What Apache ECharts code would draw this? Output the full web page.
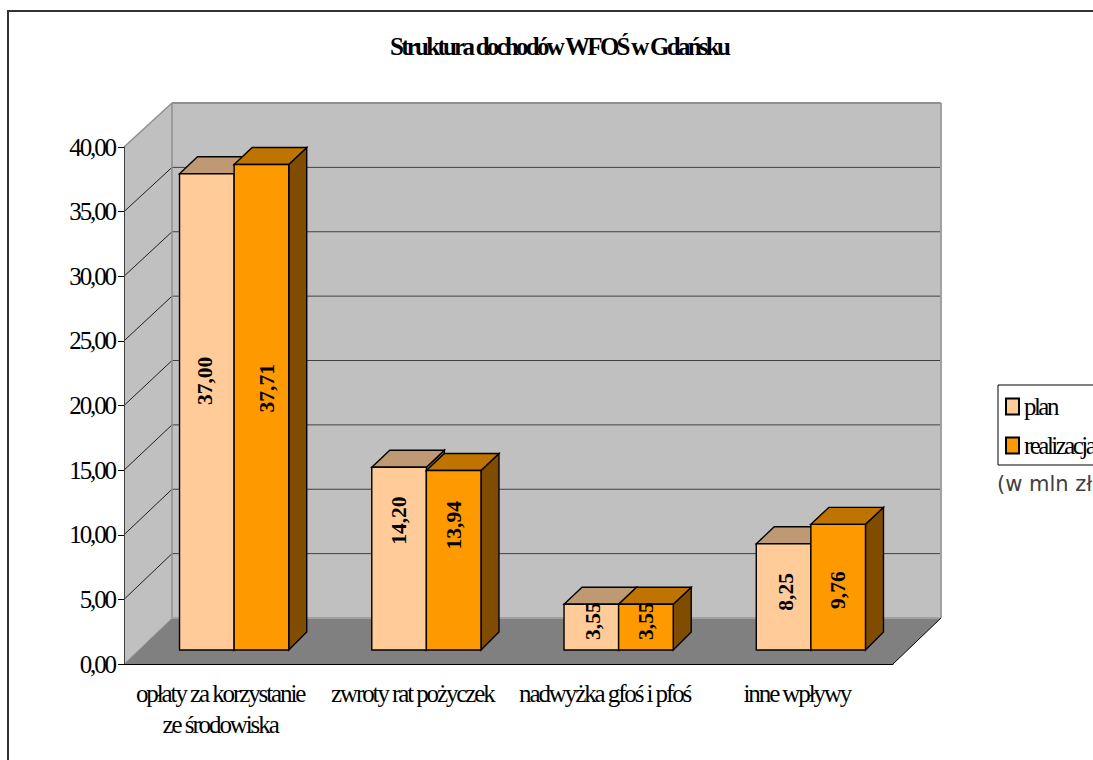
<!DOCTYPE html>
<html>
<head>
<meta charset="utf-8">
<title>Struktura dochodów WFOŚ w Gdańsku</title>
<script src="https://cdn.jsdelivr.net/npm/echarts@6/dist/echarts.min.js"></script>
<style>
  html, body { margin: 0; background: #fff; overflow: hidden; }
  #chart { width: 1093px; height: 760px; }
  /* the original text is squeezed, echarts has no letter spacing option */
  #chart text { letter-spacing: -2.1px; }
  #chart text[style*="24.9px"] { letter-spacing: -2.5px; }
  #chart text[style*="bold"] { letter-spacing: -2.75px; }
  #chart text[style*="21.5px"] { letter-spacing: 0; }
  #chart text[style*="DejaVu"] { letter-spacing: 0; }
</style>
</head>
<body>
<div id="chart"></div>
<script>
const categories = ['opłaty za korzystanie\nze środowiska', 'zwroty rat pożyczek', 'nadwyżka gfoś i pfoś', 'inne wpływy']
const planValues = [37.0, 14.2, 3.55, 8.25]
const realValues = [37.71, 13.94, 3.55, 9.76]
const yTicks = [0, 5, 10, 15, 20, 25, 30, 35, 40]

// hand placed label nudges, the source does not center them on the bars
const planLabelDy = [-31, -38, -6, -5]
const realLabelDy = [-19, -35, -6, 3]
const planLabelDx = [-2, 0, 2, 2]
const realLabelDx = [6, 0, 0, 0]

const serif = '"Liberation Serif"'
const wallDepthX = 48
const barNear = 14
const barDepth = 18
const barRatio = 0.284
// the excel 3d view shrinks things a little going back
const barScale = 0.996

const fmt = (v) => v.toFixed(2).replace('.', ',')
const wallDepthY = (t) => 46 - t * 0.05

function poly(points, fill) {
  return { type: 'polygon', shape: { points }, style: { fill, stroke: 'none' } }
}

function line(a, b, stroke, lineWidth) {
  return {
    type: 'line',
    shape: { x1: a[0], y1: a[1], x2: b[0], y2: b[1] },
    style: { stroke, lineWidth: lineWidth || 1 }
  }
}

function renderWalls(params, api) {
  const band = api.size([1, 0])[0]
  const left = api.coord([0, 0])[0] - band / 2
  const right = api.coord([categories.length - 1, 0])[0] + band / 2
  const y0 = api.coord([0, 0])[1]
  const yTop = api.coord([0, 40])[1]
  const dx = wallDepthX
  const backBottom = y0 - wallDepthY(0)
  const backTop = yTop - wallDepthY(40)
  const children = [
    poly([[left, y0], [left + dx, backBottom], [left + dx, backTop], [left, yTop]], '#c0c0c0'),
    poly([[left + dx, backBottom], [right + dx, backBottom], [right + dx, backTop], [left + dx, backTop]], '#c0c0c0'),
    poly([[left, y0], [right, y0], [right + dx, backBottom], [left + dx, backBottom]], '#808080')
  ]
  yTicks.slice(1, -1).forEach((t) => {
    const y = api.coord([0, t])[1]
    const yBack = y - wallDepthY(t)
    children.push(line([left, y], [left + dx, yBack], '#202020'))
    children.push(line([left + dx, yBack], [right + dx, yBack], '#404040', 1))
  })
  children.push(line([left, yTop], [left + dx, backTop], '#909090', 1.5))
  children.push(line([left + dx, backTop], [right + dx, backTop], '#909090', 2))
  children.push(line([right + dx, backTop], [right + dx, backBottom], '#a0a0a0', 2))
  children.push(line([left + dx, backTop], [left + dx, backBottom], '#909090', 1.5))
  children.push(line([left + dx, backBottom], [right + dx, backBottom], '#a0a0a0', 2))
  children.push(line([left, y0], [left + dx, backBottom], '#a0a0a0', 1))
  children.push(line([right, y0], [right + dx, backBottom], '#000', 1))
  return { type: 'group', children }
}

function barRenderer(pos, colors, labelDy, labelDx) {
  return (params, api) => {
    const i = api.value(0)
    const v = api.value(1)
    const base = api.coord([i, 0])
    const band = api.size([1, 0])[0]
    const w = band * barRatio
    const x0 = base[0] + barNear + (pos - 1) * w
    const x1 = x0 + w
    const yB = base[1] - barNear
    const yT = yB - (base[1] - api.coord([i, v])[1]) * barScale
    const d = barDepth
    const edge = { stroke: '#000', lineWidth: 1.4 }
    return {
      type: 'group',
      children: [
        { type: 'polygon', shape: { points: [[x1, yB], [x1 + d, yB - d], [x1 + d, yT - d + 1], [x1, yT]] }, style: { fill: colors.side, ...edge } },
        { type: 'polygon', shape: { points: [[x0, yT], [x1, yT], [x1 + d, yT - d + 1], [x0 + d, yT - d + 1]] }, style: { fill: colors.top, ...edge } },
        { type: 'rect', shape: { x: x0, y: yT, width: w, height: yB - yT }, style: { fill: colors.front, ...edge } },
        {
          type: 'text',
          x: (x0 + x1) / 2 + labelDx[i],
          y: (yT + yB) / 2 + labelDy[i],
          rotation: Math.PI / 2,
          style: {
            text: fmt(v),
            textAlign: 'center',
            textVerticalAlign: 'middle',
            fill: '#000',
            font: 'bold 21.5px ' + serif
          }
        }
      ]
    }
  }
}

const chart = echarts.init(document.getElementById('chart'), null, { renderer: 'svg' })

chart.setOption({
  animation: false,
  backgroundColor: '#fff',
  title: {
    text: 'Struktura dochodów WFOŚ w Gdańsku',
    left: 385,
    top: 29,
    textStyle: { fontFamily: serif, fontSize: 25, fontWeight: 'bold', color: '#000' }
  },
  legend: {
    data: ['plan', 'realizacja'],
    orient: 'vertical',
    left: 998,
    top: 385,
    padding: [9, 40, 7, 7],
    itemWidth: 13,
    itemHeight: 16,
    itemGap: 14,
    borderColor: '#000',
    borderWidth: 1,
    icon: 'rect',
    textStyle: { fontFamily: serif, fontSize: 24.9, color: '#000' }
  },
  grid: { left: 124, right: 200, top: 147, bottom: 96 },
  xAxis: {
    type: 'category',
    data: categories,
    z: 10,
    axisLine: { lineStyle: { color: '#000', width: 1 } },
    axisTick: { length: 9, lineStyle: { color: '#505050' } },
    axisLabel: {
      interval: 0,
      margin: 14,
      fontFamily: serif,
      fontSize: 25,
      lineHeight: 31,
      color: '#000'
    }
  },
  yAxis: {
    type: 'value',
    min: 0,
    max: 40,
    interval: 5,
    z: 10,
    splitLine: { show: false },
    axisLine: { show: true, lineStyle: { color: '#404040', width: 1 } },
    axisTick: { show: true, length: 6, lineStyle: { color: '#000' } },
    axisLabel: {
      margin: 9,
      fontFamily: serif,
      fontSize: 25,
      color: '#000',
      formatter: fmt
    }
  },
  graphic: [
    { type: 'rect', z: 100, shape: { x: 8, y: 11, width: 1300, height: 1000 }, style: { fill: 'none', stroke: '#333', lineWidth: 2 }, silent: true },
    { type: 'text', z: 100, x: 997, y: 473, style: { text: '(w mln zł', fill: '#404040', font: '21px "DejaVu Sans"' }, silent: true }
  ],
  series: [
    {
      type: 'custom',
      silent: true,
      z: 1,
      data: [[0, 0]],
      encode: { x: 0, y: 1 },
      renderItem: renderWalls
    },
    {
      name: 'plan',
      type: 'custom',
      silent: true,
      z: 2,
      itemStyle: { color: '#ffcc99', borderColor: '#000', borderWidth: 1 },
      data: planValues.map((v, i) => [i, v]),
      encode: { x: 0, y: 1 },
      renderItem: barRenderer(0, { front: '#ffcc99', top: '#bf9973', side: '#806648' }, planLabelDy, planLabelDx)
    },
    {
      name: 'realizacja',
      type: 'custom',
      silent: true,
      z: 3,
      itemStyle: { color: '#ff9900', borderColor: '#000', borderWidth: 1 },
      data: realValues.map((v, i) => [i, v]),
      encode: { x: 0, y: 1 },
      renderItem: barRenderer(1, { front: '#ff9900', top: '#bf7300', side: '#804d00' }, realLabelDy, realLabelDx)
    }
  ]
})
</script>
</body>
</html>
